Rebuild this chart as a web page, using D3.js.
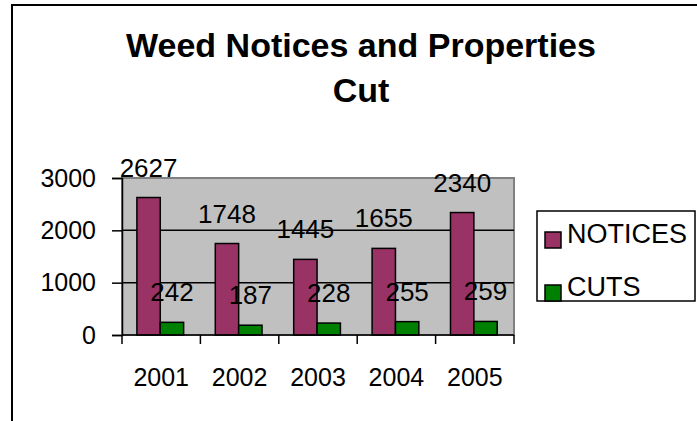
<!DOCTYPE html>
<html><head><meta charset="utf-8">
<script src="https://cdn.jsdelivr.net/npm/d3@7"></script>
<style>body{margin:0;background:#fff}svg{display:block}text{font-family:"Liberation Sans",Arial,sans-serif}</style>
</head><body>
<svg id="c" width="697" height="421"></svg>
<script>
const categories = ["2001","2002","2003","2004","2005"];
const notices = [2627,1748,1445,1655,2340];
const cuts = [242,187,228,255,259];
const yTicks = [0,1000,2000,3000];
const seriesNames = ["NOTICES","CUTS"];
const seriesColors = ["#993366","#008000"];
const FONT = "'Liberation Sans', Arial, sans-serif";

const svg = d3.select("#c");
// outer frame
svg.append("rect").attr("x",12).attr("y",5).attr("width",720).attr("height",440)
  .attr("fill","#fff").attr("stroke","#000").attr("stroke-width",2);

svg.append("text").attr("x",361).attr("y",57).attr("text-anchor","middle")
  .attr("font-size",34).attr("font-weight","bold").text("Weed Notices and Properties");
svg.append("text").attr("x",361).attr("y",102).attr("text-anchor","middle")
  .attr("font-size",34).attr("font-weight","bold").text("Cut");

const L=122,R=514,T=178,B=335;
const x = d3.scaleBand().domain(categories).range([L,R]);
const y = d3.scaleLinear().domain([0,3000]).range([B,T]);

svg.append("rect").attr("x",L).attr("y",T).attr("width",R-L).attr("height",B-T)
  .attr("fill","#c0c0c0").attr("stroke","#808080").attr("stroke-width",2);

svg.append("g").selectAll("line").data(yTicks.filter(d=>d>0 && d<3000)).join("line")
  .attr("x1",L).attr("x2",R).attr("y1",d=>y(d)).attr("y2",d=>y(d))
  .attr("stroke","#000").attr("stroke-width",1.5);

const bw = x.bandwidth();
const off = bw*0.19, w = bw*0.298;
const series = [notices,cuts];
series.forEach((vals,si)=>{
  svg.append("g").selectAll("rect").data(vals).join("rect")
    .attr("x",(d,i)=>x(categories[i])+off+si*w).attr("y",d=>y(d))
    .attr("width",w).attr("height",d=>B-y(d))
    .attr("fill",seriesColors[si]).attr("stroke","#000").attr("stroke-width",1.5);
});

// axes
const yAxis = d3.axisLeft(y).tickValues(yTicks).tickSize(10).tickPadding(16).tickFormat(d3.format("d"));
const gy = svg.append("g").attr("transform",`translate(${L},0)`).call(yAxis);
const xAxis = d3.axisBottom(x).tickSize(0).tickPadding(33);
const gx = svg.append("g").attr("transform",`translate(0,${B})`).call(xAxis);
[gy,gx].forEach(g=>{
  g.selectAll("path").attr("stroke","#000").attr("stroke-width",1.5);
  g.selectAll("line").attr("stroke","#000").attr("stroke-width",1.5);
  g.selectAll("text").attr("font-size",25).attr("fill","#000").attr("font-family",FONT);
});
gx.select("path").attr("d",`M${L},0H${R}`);
// x tick marks at category boundaries
svg.append("g").selectAll("line").data(d3.range(categories.length+1)).join("line")
  .attr("x1",i=>L+i*bw).attr("x2",i=>L+i*bw).attr("y1",B).attr("y2",B+9)
  .attr("stroke","#000").attr("stroke-width",1.5);

// data labels
series.forEach((vals,si)=>{
  svg.append("g").selectAll("text").data(vals).join("text")
    .attr("x",(d,i)=>x(categories[i])+off+si*w+w/2).attr("y",d=>y(d)-21)
    .attr("text-anchor","middle").attr("font-size",26).text(d=>d);
});

// legend
const lg = svg.append("g");
lg.append("rect").attr("x",537).attr("y",211).attr("width",158).attr("height",90)
  .attr("fill","#fff").attr("stroke","#000").attr("stroke-width",1.5);
seriesNames.forEach((n,i)=>{
  const base = 243 + i*53;
  lg.append("rect").attr("x",545).attr("y",base-11).attr("width",16).attr("height",16)
    .attr("fill",seriesColors[i]).attr("stroke","#000").attr("stroke-width",1.5);
  lg.append("text").attr("x",567).attr("y",base).attr("font-size",27).text(n);
});
</script>
</body></html>
